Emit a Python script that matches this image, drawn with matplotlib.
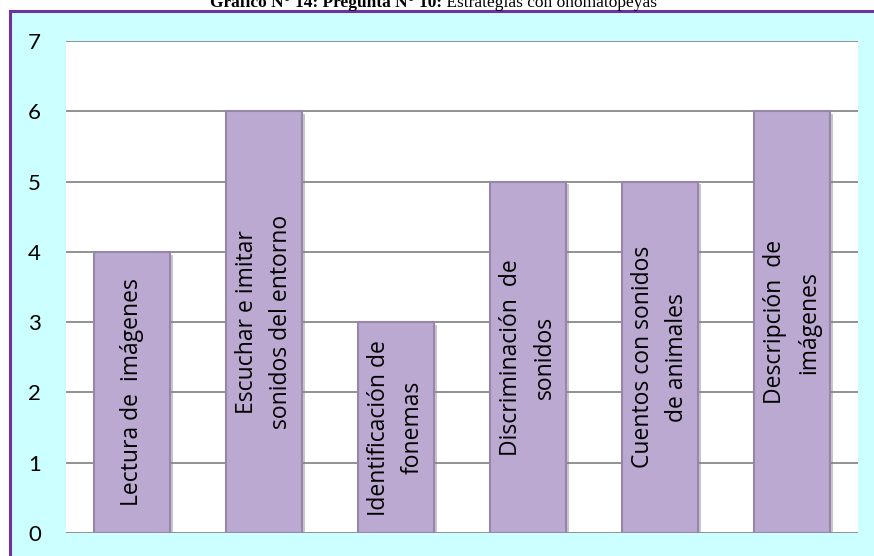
import matplotlib
matplotlib.use('Agg')
import matplotlib.pyplot as plt
import matplotlib.patches as mpatches
import numpy as np

# datos del grafico
categorias = ['Lectura de  imágenes',
              'Escuchar e imitar\nsonidos del entorno',
              'Identificación de\nfonemas',
              'Discriminación  de\nsonidos',
              'Cuentos con sonidos\nde animales',
              'Descripción  de\nimágenes']
valores = [4, 6, 3, 5, 5, 6]
yticks = [0, 1, 2, 3, 4, 5, 6, 7]
titulo_neg = 'Gráfico N° 14: Pregunta N° 10:'
titulo_norm = ' Estrategias con onomatopeyas'

fig = plt.figure(figsize=(8.74, 5.56), dpi=100, facecolor='w')

# marco de fondo (cian con borde morado)
marco = mpatches.Rectangle((10/874., -0.1), 1.1, 1.1 - 10.5/556., transform=fig.transFigure,
                           facecolor='#CCFFFF', edgecolor='#7030A0', linewidth=2.2,
                           zorder=-10, clip_on=False)
fig.patches.append(marco)

ax = fig.add_axes([66/874., 1-533/556., 792/874., 492/556.])
ax.set_facecolor('white')
x = np.arange(len(valores))

# sombra y barras
ax.bar(x + 0.025, valores, width=0.57, color='#8a8090', alpha=0.45, zorder=2,
       bottom=-0.04)
ax.bar(x, valores, width=0.57, color='#BBA9D1', edgecolor='#9686aa',
       linewidth=1.5, zorder=3)

for xi, v, lab in zip(x, valores, categorias):
    ax.text(xi, v/2., lab, rotation=90, ha='center', va='center',
            multialignment='center', fontsize=16.5, family='Open Sans',
            linespacing=1.55, zorder=4)

ax.set_xlim(-0.5, 5.5)
ax.set_ylim(0, 7)
ax.set_yticks(yticks)
ax.set_xticks([])
ax.yaxis.grid(True, color='#898989', linewidth=1.3, zorder=1)
ax.set_axisbelow(True)
for s in ax.spines.values():
    s.set_visible(False)
ax.tick_params(axis='y', length=0, pad=18, labelsize=16)
for t in ax.get_yticklabels():
    t.set_family('Lato')

# titulo (parte en negrita + parte normal)
r = fig.canvas.get_renderer()
t1 = fig.text(0, 1 - 7/556., titulo_neg, family='Liberation Serif',
              fontweight='bold', fontsize=12.5, va='baseline', ha='left')
t2 = fig.text(0, 1 - 7/556., titulo_norm, family='Liberation Serif',
              fontsize=12.5, va='baseline', ha='left')
w1 = t1.get_window_extent(r).width
w2 = t2.get_window_extent(r).width
x0 = 433 - (w1 + w2)/2.
t1.set_x(x0/874.)
t2.set_x((x0 + w1)/874.)

fig.savefig('out.png', dpi=100)
